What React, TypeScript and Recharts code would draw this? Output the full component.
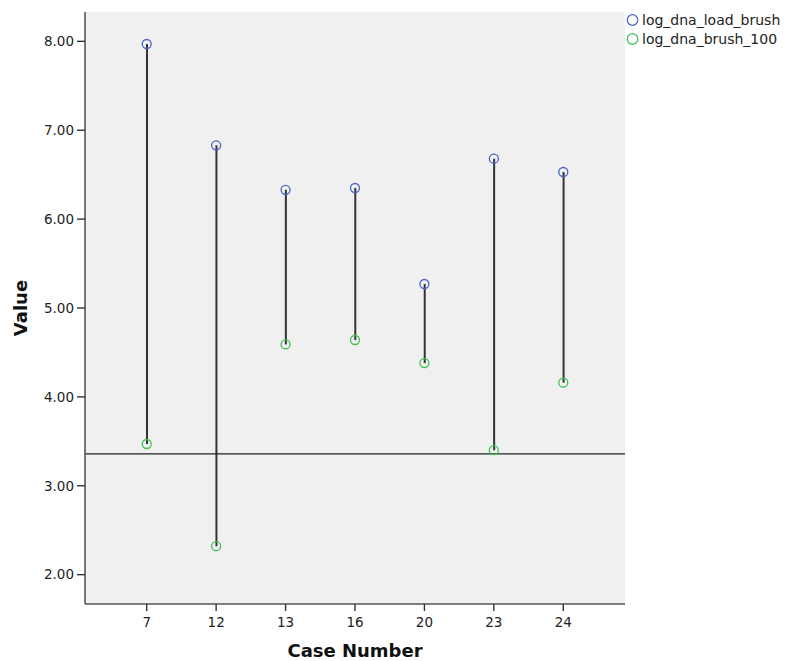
import {
  ComposedChart,
  Bar,
  Line,
  XAxis,
  YAxis,
  CartesianGrid,
  ReferenceLine,
} from "recharts";

const cases = ["7", "12", "13", "16", "20", "23", "24"];
const loadBrush = [7.97, 6.83, 6.33, 6.35, 5.27, 6.68, 6.53];
const brush100 = [3.47, 2.32, 4.59, 4.64, 4.38, 3.4, 4.16];
const yTicks = [2, 3, 4, 5, 6, 7, 8];
const yDomain = [1.67, 8.33];
const refValue = 3.36;

const seriesNames = ["log_dna_load_brush", "log_dna_brush_100"];
const seriesColors = ["#4a62c0", "#3cc054"];

const data = cases.map((c, i) => ({
  name: c,
  load: loadBrush[i],
  brush: brush100[i],
}));

const font = "'DejaVu Sans', Verdana, sans-serif";

function LegendBox() {
  return (
    <div
      style={{
        position: "absolute",
        top: 11,
        left: 626,
        fontFamily: font,
        fontSize: 14,
        color: "#222",
        lineHeight: "18.5px",
      }}
    >
      {seriesNames.map((n, i) => (
        <div key={n} style={{ display: "flex", alignItems: "center" }}>
          <svg width={14} height={14} style={{ marginRight: 2 }}>
            <circle cx={6.5} cy={7} r={5.3} fill="none" stroke={seriesColors[i]} strokeWidth={1.2} />
          </svg>
          <span>{n}</span>
        </div>
      ))}
    </div>
  );
}

export default function App() {
  return (
    <div style={{ position: "absolute", left: 0, top: 0, width: 787, height: 661, background: "#fff" }}>
      <ComposedChart
        width={787}
        height={661}
        data={data}
        margin={{ top: 12, right: 162, bottom: 0, left: 0 }}
        style={{ fontFamily: font }}
      >
        <CartesianGrid fill="#f0f0f0" horizontal={false} vertical={false} />
        <XAxis
          dataKey="name"
          padding={{ left: 27, right: 27 }}
          tickSize={7}
          tickMargin={6}
          axisLine={{ stroke: "#555", strokeWidth: 1.6 }}
          tickLine={{ stroke: "#333", strokeWidth: 1.4 }}
          tick={{ fontSize: 13.5, fill: "#222" }}
          height={57}
          label={{
            value: "Case Number",
            position: "insideBottom",
            offset: 4,
            style: { fontSize: 18, fontWeight: "bold", fill: "#111" },
          }}
        />
        <XAxis
          xAxisId="top"
          dataKey="name"
          orientation="top"
          height={0}
          tick={false}
          tickLine={false}
          axisLine={{ stroke: "#555", strokeWidth: 1.6 }}
        />
        <YAxis
          domain={yDomain}
          ticks={yTicks}
          type="number"
          allowDataOverflow
          width={85}
          tickSize={8}
          tickMargin={3}
          tickFormatter={(v: number) => v.toFixed(2)}
          axisLine={{ stroke: "#555", strokeWidth: 1.6 }}
          tickLine={{ stroke: "#333", strokeWidth: 1.4 }}
          tick={{ fontSize: 13.5, fill: "#222" }}
          label={{
            value: "Value",
            angle: -90,
            position: "insideLeft",
            offset: 21,
            style: { fontSize: 18, fontWeight: "bold", fill: "#111", textAnchor: "middle" },
          }}
        />
        <YAxis
          yAxisId="right"
          orientation="right"
          domain={yDomain}
          type="number"
          width={0}
          tick={false}
          tickLine={false}
          axisLine={{ stroke: "#555", strokeWidth: 1.6 }}
        />
        <ReferenceLine y={refValue} stroke="#222" strokeWidth={1.3} />
        <Bar
          dataKey={(d: any) => [d.brush, d.load]}
          fill="#333"
          barSize={2}
          isAnimationActive={false}
        />
        <Line
          dataKey="load"
          stroke="none"
          dot={{ r: 4.5, stroke: seriesColors[0], strokeWidth: 1.3, fill: "none" }}
          activeDot={false}
          isAnimationActive={false}
        />
        <Line
          dataKey="brush"
          stroke="none"
          dot={{ r: 4.5, stroke: seriesColors[1], strokeWidth: 1.3, fill: "none" }}
          activeDot={false}
          isAnimationActive={false}
        />
      </ComposedChart>
      <LegendBox />
    </div>
  );
}
